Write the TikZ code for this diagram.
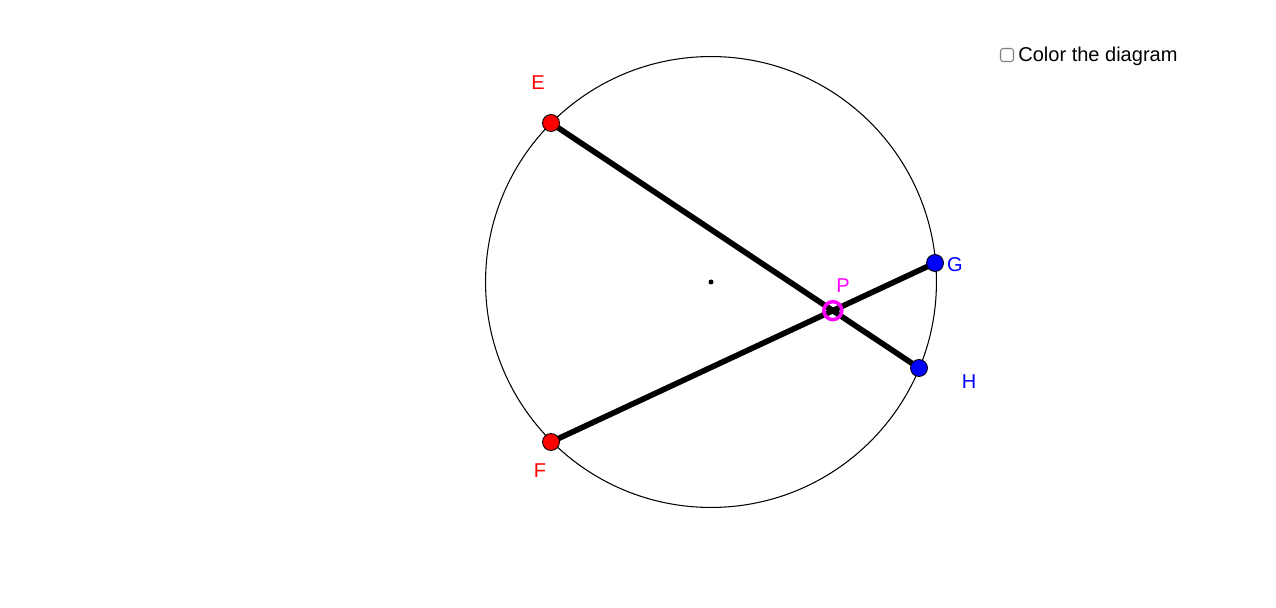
\documentclass[tikz,border=0pt]{standalone}
\usepackage{fontspec}
\setmainfont{Liberation Sans}
\usetikzlibrary{intersections}
\definecolor{ptmagenta}{RGB}{255,0,255}
\definecolor{ptred}{RGB}{255,0,0}
\definecolor{ptblue}{RGB}{0,0,255}
\tikzstyle{vertex}=[circle,draw=black,line width=0.5pt,minimum size=0.34cm,inner sep=0pt]
\tikzstyle{chord} = [draw,line width=3.2pt]
\tikzstyle{ptlabel} = [font=\fontsize{11.4}{13}\selectfont]
\tikzstyle{crossing} = [circle,draw=ptmagenta,line width=2pt,minimum size=0.36cm,inner sep=0pt]

\begin{document}
\begin{tikzpicture}[x=0.02cm,y=-0.02cm]
	\useasboundingbox[fill=white] (0,0) rectangle (1276,608);
	% First we draw the circle and its centre
	\coordinate (O) at (711,282);
	\draw[line width=0.6pt] (O) circle (4.51cm);
	\fill (O) circle (2.5);
	
	% Points on the circle
	\foreach \x/\y/\name in {551/123/E, 551/442/F, 935/263/G, 919/368/H}
	\coordinate (\name) at (\x,\y);
	
	% Connect points with chords
	\foreach \source/ \dest in {E/H, F/G}
	\path[chord,name path global=\source\dest] (\source) -- (\dest);
	\path[name intersections={of=EH and FG,by=P}];
	
	\foreach \name/\col in {E/ptred, F/ptred, G/ptblue, H/ptblue}
	\node[vertex,fill=\col] (\name dot) at (\name) {};
	\node[crossing] (P dot) at (P) {};
	
	% Labels
	\foreach \pos/\name/\col in {{(538,83)/E/ptred}, {(540,471)/F/ptred}, {(955,265)/G/ptblue}, {(969,382)/H/ptblue}, {(843,286)/P/ptmagenta}}
	\node[ptlabel,text=\col] (\name label) at \pos {\name};
	
	% Checkbox
	\node[draw=gray,line width=0.6pt,rounded corners=1.5pt,minimum size=0.26cm,inner sep=0pt] (box) at (1007,55) {};
	\node[ptlabel,anchor=west,inner sep=0pt] (boxtext) at (1018,56) {Color the diagram};
\end{tikzpicture}
\end{document}
